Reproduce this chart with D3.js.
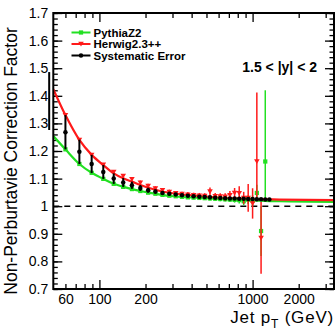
<!DOCTYPE html>
<html>
<head>
<meta charset="utf-8">
<script src="https://cdn.jsdelivr.net/npm/d3@7"></script>
<style>
body { margin: 0; background: #fff; }
text { font-family: "Liberation Sans", Arial, Helvetica, sans-serif; }
</style>
</head>
<body>
<svg id="chart"></svg>
<script>
// fitted curves
const curvePt      = [50, 60, 74, 89, 106, 124, 143, 163, 185, 214, 249, 303, 455, 800, 1500, 3400];
const herwigCurve  = [1.424, 1.330, 1.240, 1.186, 1.149, 1.119, 1.101, 1.089, 1.077, 1.065, 1.055, 1.047, 1.037, 1.028, 1.024, 1.022];
const pythiaCurve  = [1.254, 1.206, 1.153, 1.121, 1.099, 1.081, 1.070, 1.062, 1.055, 1.048, 1.042, 1.036, 1.030, 1.023, 1.018, 1.016];

// bin points
const pythiaPt  = [60, 74, 89, 106, 124, 143, 163, 185, 208, 232, 258, 286, 315, 346, 378, 412, 449, 487, 527, 570, 615, 662, 711, 763, 818, 875, 936, 1000, 1066, 1136, 1210];
const pythiaVal = [1.206, 1.153, 1.121, 1.099, 1.081, 1.070, 1.062, 1.055, 1.049, 1.045, 1.041, 1.038, 1.036, 1.034, 1.032, 1.031, 1.030, 1.029, 1.028, 1.027, 1.026, 1.025, 1.024, 1.023, 1.022, 1.018, 1.024, 1.020, 1.048, 0.910, 1.162];
const pythiaErr = [.003, .003, .003, .003, .003, .003, .004, .004, .004, .004, .004, .005, .005, .005, .005, .006, .006, .006, .007, .007, .008, .008, .009, .010, .012, .014, .016, .020, .030, .090, [.137, .258]];

const herwigPt  = [60, 74, 89, 106, 124, 143, 163, 185, 208, 232, 258, 286, 315, 346, 378, 412, 449, 487, 527, 570, 615, 662, 711, 763, 818, 875, 936, 1000, 1066, 1136];
const herwigVal = [1.330, 1.240, 1.186, 1.150, 1.124, 1.110, 1.098, 1.085, 1.073, 1.064, 1.058, 1.052, 1.047, 1.044, 1.042, 1.040, 1.038, 1.037, 1.053, 1.036, 1.035, 1.034, 1.040, 1.048, 1.047, 1.030, 1.030, 1.010, 1.162, 0.885];
const herwigErr = [.004, .004, .005, .005, .006, .007, .008, .008, .008, .008, .008, .008, .008, .008, .009, .009, .010, .010, .015, .012, .012, .013, .015, .018, .025, .022, .050, .055, [.13, .25], .13];

const systPt  = [47, 60, 74, 89, 106, 124, 143, 163, 185, 208, 232, 258, 286, 315, 346, 378, 412, 449, 487, 527, 570, 615, 662, 711, 763, 818, 875, 936, 1000, 1066, 1136, 1210, 1287];
const systVal = [1.381, 1.268, 1.197, 1.153, 1.124, 1.100, 1.086, 1.076, 1.066, 1.058, 1.053, 1.048, 1.045, 1.042, 1.040, 1.038, 1.036, 1.034, 1.033, 1.032, 1.031, 1.030, 1.029, 1.028, 1.028, 1.027, 1.027, 1.026, 1.026, 1.025, 1.025, 1.024, 1.024];
const systErr = [.105, .062, .044, .033, .025, .019, .016, .013, .011, .009, .008, .007, .006, .005, .005, .004, .004, .004, .003, .003, .003, .003, .003, .003, .003, .003, .003, .003, .003, .003, .003, .003, .003];

const xMajor  = [100, 1000];
const xMinor  = [60, 70, 80, 90, 200, 300, 400, 500, 600, 700, 800, 900, 2000, 3000];
const xLabels = [60, 100, 200, 1000, 2000];
const yMajor  = [0.7, 0.8, 0.9, 1.0, 1.1, 1.2, 1.3, 1.4, 1.5, 1.6, 1.7];
const yMinor  = d3.range(0.7, 1.7001, 0.02);

const legendNames = ["PythiaZ2", "Herwig2.3++", "Systematic Error"];

const GREEN = "#22e022", RED = "#ff1a1a", BLACK = "#000";

const width = 336, height = 331;
const margin = {top: 13, right: 2, bottom: 42, left: 53.3};

const svg = d3.select("#chart").attr("width", width).attr("height", height);

const x = d3.scaleLog().domain([50, 3400]).range([margin.left, width - margin.right]);
const y = d3.scaleLinear().domain([0.7, 1.7]).range([height - margin.bottom, margin.top]);

const x0 = x.range()[0], x1 = x.range()[1], y0 = y.range()[0], y1 = y.range()[1];

svg.append("clipPath").attr("id", "frame")
    .append("rect").attr("x", x0).attr("y", y1).attr("width", x1 - x0).attr("height", y0 - y1);

// axes (ticks inside the frame)
function axisGroup(axis, tx, ty) {
    const g = svg.append("g").attr("transform", `translate(${tx},${ty})`).call(axis);
    g.select(".domain").remove();
    g.selectAll("line").attr("stroke", "#000").attr("stroke-width", 1.3);
    return g;
}
axisGroup(d3.axisBottom(x).tickValues(xMajor).tickSize(-9).tickFormat(""), 0, y0);
axisGroup(d3.axisBottom(x).tickValues(xMinor).tickSize(-5).tickFormat(""), 0, y0);
axisGroup(d3.axisTop(x).tickValues(xMajor).tickSize(-9).tickFormat(""), 0, y1);
axisGroup(d3.axisTop(x).tickValues(xMinor).tickSize(-5).tickFormat(""), 0, y1);
axisGroup(d3.axisBottom(x).tickValues(xLabels).tickSize(0).tickPadding(5).tickFormat(d3.format("d")), 0, y0)
    .selectAll("text").attr("font-size", 14).attr("fill", "#000");

axisGroup(d3.axisLeft(y).tickValues(yMajor).tickSize(-9).tickFormat(""), x0, 0);
axisGroup(d3.axisLeft(y).tickValues(yMinor).tickSize(-4.5).tickFormat(""), x0, 0);
axisGroup(d3.axisRight(y).tickValues(yMajor).tickSize(-9).tickFormat(""), x1, 0);
axisGroup(d3.axisRight(y).tickValues(yMinor).tickSize(-4.5).tickFormat(""), x1, 0);
axisGroup(d3.axisLeft(y).tickValues(yMajor).tickSize(0).tickPadding(5)
        .tickFormat(d => Math.abs(d - 1) < 1e-9 ? "1" : d.toFixed(1)), x0, 0)
    .selectAll("text").attr("font-size", 14).attr("fill", "#000");

// curves
const plot = svg.append("g").attr("clip-path", "url(#frame)");
const line = d3.line().x(d => x(d[0])).y(d => y(d[1])).curve(d3.curveMonotoneX);

plot.append("path").datum(d3.zip(curvePt, pythiaCurve))
    .attr("d", line).attr("fill", "none").attr("stroke", GREEN).attr("stroke-width", 2.2);
plot.append("path").datum(d3.zip(curvePt, herwigCurve))
    .attr("d", line).attr("fill", "none").attr("stroke", RED).attr("stroke-width", 2.2);

// dashed line at 1
svg.append("line")
    .attr("x1", x0).attr("x2", x1).attr("y1", y(1)).attr("y2", y(1))
    .attr("stroke", "#000").attr("stroke-width", 1.5).attr("stroke-dasharray", "6,5");

function points(pts, vals, errs, color, shape, barWidth) {
    const data = pts.map((p, i) => {
        const e = errs[i];
        const dn = Array.isArray(e) ? e[0] : e;
        const up = Array.isArray(e) ? e[1] : e;
        return {p: p, v: vals[i], lo: vals[i] - dn, hi: vals[i] + up};
    });
    const g = svg.append("g");
    g.selectAll("line").data(data).join("line")
        .attr("x1", d => x(d.p)).attr("x2", d => x(d.p))
        .attr("y1", d => y(d.lo)).attr("y2", d => y(d.hi))
        .attr("stroke", color).attr("stroke-width", barWidth);
    const inside = data.filter(d => d.p >= x.domain()[0]);
    g.selectAll("path.mk").data(inside).join("path").attr("class", "mk")
        .attr("transform", d => `translate(${x(d.p)},${y(d.v)})`)
        .attr("d", shape).attr("fill", color);
}
const square = d3.symbol().type(d3.symbolSquare).size(18)();
const circle = d3.symbol().type(d3.symbolCircle).size(16)();
const tri = "M-2.8,-2.2L2.8,-2.2L0,2.6Z";

points(pythiaPt, pythiaVal, pythiaErr, GREEN, square, 1.5);
points(herwigPt, herwigVal, herwigErr, RED, tri, 1.5);
points(systPt, systVal, systErr, BLACK, circle, 2);

// legend
const legend = svg.append("g");
const legendColors = [GREEN, RED, BLACK];
const legendShapes = [square, tri, circle];
legendNames.forEach((name, i) => {
    const ly = 32.5 + i * 11.5;
    legend.append("line").attr("x1", 71.5).attr("x2", 90.5).attr("y1", ly).attr("y2", ly)
        .attr("stroke", legendColors[i]).attr("stroke-width", 2);
    legend.append("path").attr("transform", `translate(81,${ly})`)
        .attr("d", legendShapes[i]).attr("fill", legendColors[i]);
    legend.append("text").attr("x", 93.5).attr("y", ly + 4.2)
        .attr("font-size", 11.5).attr("font-weight", "bold").text(name);
});

svg.append("text").attr("x", 317).attr("y", 71.5).attr("text-anchor", "end")
    .attr("font-size", 14).attr("font-weight", "bold").text("1.5 < |y| < 2");

// axis titles
svg.append("text")
    .attr("transform", `translate(17,${(y0 + y1) / 2 + 10}) rotate(-90)`)
    .attr("text-anchor", "middle").attr("font-size", 17.5)
    .text("Non-Perburtavie Correction Factor");

const xt = svg.append("text").attr("x", 334).attr("y", 323).attr("text-anchor", "end")
    .attr("font-size", 17).attr("letter-spacing", 0.8);
xt.append("tspan").text("Jet p");
xt.append("tspan").attr("font-size", 12).attr("dy", 4.5).text("T");
xt.append("tspan").attr("dy", -4.5).text(" (GeV)");

// frame
svg.append("rect").attr("x", x0).attr("y", y1).attr("width", x1 - x0).attr("height", y0 - y1)
    .attr("fill", "none").attr("stroke", "#000").attr("stroke-width", 2);
</script>
</body>
</html>
